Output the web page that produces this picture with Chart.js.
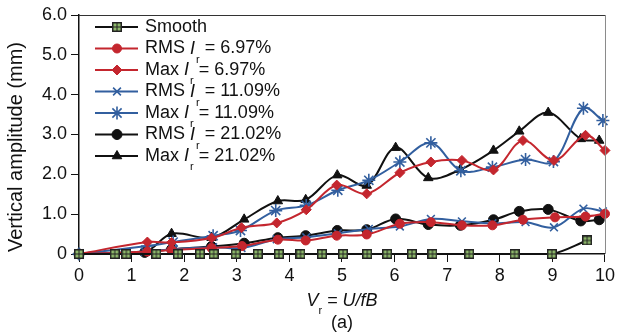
<!DOCTYPE html>
<html>
<head>
<meta charset="utf-8">
<style>
  html, body { margin: 0; padding: 0; background: #fff; }
  #wrap { width: 618px; height: 336px; }
</style>
<script src="https://cdn.jsdelivr.net/npm/chart.js@4.4.0/dist/chart.umd.min.js"></script>
</head>
<body>
<div id="wrap"><canvas id="amp" width="618" height="336"></canvas></div>
<script>
// reduced velocity Vr = U/fB and vertical amplitude (mm) for each case
const smoothX = [0, 0.68, 0.9, 1.47, 1.88, 2.3, 2.56, 2.98, 3.4, 3.8, 4.21, 4.62, 5.02, 5.48, 5.86, 6.33, 6.72, 7.42, 8.28, 8.99, 9.66];
const smoothY = [0, 0, 0, 0, 0, 0, 0, 0, 0, 0, 0, 0, 0, 0, 0, 0, 0, 0, 0, 0, 0.34];

const rms697X = [0, 1.3, 1.76, 2.52, 3.1, 3.78, 4.31, 4.9, 5.47, 6.1, 6.69, 7.28, 7.86, 8.44, 9.05, 9.63, 10.0];
const rms697Y = [0, 0.06, 0.1, 0.15, 0.2, 0.36, 0.34, 0.46, 0.49, 0.76, 0.8, 0.72, 0.72, 0.86, 0.92, 0.94, 1.01];
const max697X = [0, 1.3, 1.76, 2.52, 3.09, 3.76, 4.32, 4.9, 5.47, 6.1, 6.69, 7.28, 7.88, 8.44, 9.03, 9.63, 10.0];
const max697Y = [0, 0.3, 0.29, 0.4, 0.66, 0.78, 1.11, 1.73, 1.51, 2.04, 2.31, 2.35, 2.11, 2.85, 2.35, 2.98, 2.6];

const rms1109X = [0, 1.25, 1.79, 2.55, 3.09, 3.76, 4.32, 4.92, 5.51, 6.1, 6.69, 7.28, 7.86, 8.49, 9.03, 9.59, 9.96];
const rms1109Y = [0, 0.06, 0.12, 0.17, 0.15, 0.37, 0.42, 0.52, 0.63, 0.69, 0.88, 0.82, 0.77, 0.8, 0.67, 1.14, 1.07];
const max1109X = [0, 1.3, 1.79, 2.55, 3.07, 3.74, 4.32, 4.92, 5.51, 6.1, 6.69, 7.26, 7.86, 8.49, 9.02, 9.59, 9.96];
const max1109Y = [0, 0.2, 0.3, 0.46, 0.59, 1.09, 1.22, 1.6, 1.85, 2.31, 2.79, 2.09, 2.18, 2.37, 2.32, 3.66, 3.35];

const x2102 = [0, 1.25, 1.76, 2.52, 3.14, 3.78, 4.31, 4.91, 5.47, 6.02, 6.64, 7.25, 7.88, 8.37, 8.92, 9.54, 9.89];
const rms2102Y = [0, 0.04, 0.12, 0.19, 0.27, 0.41, 0.46, 0.59, 0.61, 0.88, 0.74, 0.72, 0.86, 1.07, 1.12, 0.83, 0.86];
const max2102Y = [0, 0.05, 0.51, 0.41, 0.87, 1.33, 1.36, 1.98, 1.72, 2.67, 1.91, 2.12, 2.6, 3.08, 3.55, 2.89, 2.85];

const xTicks = [0, 1, 2, 3, 4, 5, 6, 7, 8, 9, 10];
const yTicks = [0, 1, 2, 3, 4, 5, 6];
const intensities = ['6.97%', '11.09%', '21.02%'];

const RED = '#c4262e';
const BLUE = '#325f9f';
const BLACK = '#111111';
const FONT = '"Liberation Sans", Arial, sans-serif';

function pts(xs, ys) {
  return xs.map((x, i) => ({ x: x, y: ys[i] }));
}

// green square with a dark cross, used for the smooth cylinder
function squareMarker() {
  const c = document.createElement('canvas');
  c.width = 10; c.height = 10;
  const g = c.getContext('2d');
  g.fillStyle = '#222';
  g.fillRect(0, 0, 10, 10);
  g.fillStyle = '#8db86a';
  g.fillRect(1.5, 1.5, 3, 3);
  g.fillRect(5.5, 1.5, 3, 3);
  g.fillRect(1.5, 5.5, 3, 3);
  g.fillRect(5.5, 5.5, 3, 3);
  return c;
}
const sqMark = squareMarker();

function series(label, kind, data, color, style, radius, bw) {
  return {
    label: label,
    kind: kind,
    data: data,
    borderColor: color,
    backgroundColor: color,
    borderWidth: 2,
    pointStyle: style,
    pointRadius: radius,
    pointHoverRadius: radius,
    pointBorderWidth: bw,
    pointBorderColor: color,
    pointBackgroundColor: color,
    tension: 0.35,
    clip: false
  };
}

const datasets = [
  series('Smooth', null, pts(smoothX, smoothY), BLACK, sqMark, 5, 1),
  series('RMS', intensities[0], pts(rms697X, rms697Y), RED, 'circle', 4.5, 1),
  series('Max', intensities[0], pts(max697X, max697Y), RED, 'rectRot', 5, 1),
  series('RMS', intensities[1], pts(rms1109X, rms1109Y), BLUE, 'crossRot', 5.5, 1.6),
  series('Max', intensities[1], pts(max1109X, max1109Y), BLUE, 'star', 6.5, 1.6),
  series('RMS', intensities[2], pts(x2102, rms2102Y), BLACK, 'circle', 5, 1),
  series('Max', intensities[2], pts(x2102, max2102Y), BLACK, 'triangle', 5.5, 1)
];

// legend, frame, axis captions with the subscripted symbols
const decorations = {
  id: 'decorations',
  afterDraw(chart) {
    const ctx = chart.ctx;
    const area = chart.chartArea;
    ctx.save();

    // top and right edges of the plot box
    ctx.lineWidth = 1;
    ctx.strokeStyle = '#333';
    ctx.beginPath();
    ctx.moveTo(area.left, area.top + 0.5);
    ctx.lineTo(area.right, area.top + 0.5);
    ctx.stroke();
    ctx.strokeStyle = '#8a8a8a';
    ctx.beginPath();
    ctx.moveTo(area.right + 0.5, area.top);
    ctx.lineTo(area.right + 0.5, area.bottom);
    ctx.stroke();

    // legend rows
    const rowY0 = 27, rowGap = 21.5;
    chart.data.datasets.forEach((ds, i) => {
      const y = rowY0 + i * rowGap;
      ctx.strokeStyle = ds.borderColor;
      ctx.lineWidth = 2;
      ctx.beginPath();
      ctx.moveTo(95, y);
      ctx.lineTo(138, y);
      ctx.stroke();
      ctx.fillStyle = ds.pointBackgroundColor;
      ctx.strokeStyle = ds.pointBorderColor;
      ctx.lineWidth = ds.pointBorderWidth;
      Chart.helpers.drawPoint(ctx, {
        pointStyle: ds.pointStyle,
        radius: ds.pointRadius,
        borderWidth: ds.pointBorderWidth,
        rotation: 0
      }, 117, y);

      ctx.fillStyle = '#111';
      ctx.textBaseline = 'middle';
      ctx.textAlign = 'left';
      let x = 145;
      ctx.font = '18px ' + FONT;
      if (!ds.kind) {
        ctx.fillText(ds.label, x, y);
        return;
      }
      ctx.fillText(ds.label + ' ', x, y);
      x += ctx.measureText(ds.label + ' ').width;
      ctx.font = 'italic 18px ' + FONT;
      ctx.fillText('I', x, y);
      x += ctx.measureText('I').width + 1;
      ctx.font = '11px ' + FONT;
      ctx.fillText('r', x, y + 11);
      x += ctx.measureText('r').width;
      ctx.font = '18px ' + FONT;
      ctx.fillText(' = ' + ds.kind, x, y);
    });

    // y-axis caption
    ctx.fillStyle = '#111';
    ctx.font = '20px ' + FONT;
    ctx.textAlign = 'center';
    ctx.textBaseline = 'middle';
    ctx.save();
    ctx.translate(16, 147);
    ctx.rotate(-Math.PI / 2);
    ctx.fillText('Vertical amplitude (mm)', 0, 0);
    ctx.restore();

    // x-axis caption: Vr = U/fB, then panel tag
    const cx = (area.left + area.right) / 2;
    const ty = 301;
    ctx.font = 'italic 18px ' + FONT;
    const wV = ctx.measureText('V').width;
    const wRest = ctx.measureText(' = U/fB').width;
    ctx.font = '11px ' + FONT;
    const wr = ctx.measureText('r').width;
    let tx = cx - (wV + wr + wRest) / 2;
    ctx.textAlign = 'left';
    ctx.font = 'italic 18px ' + FONT;
    ctx.fillText('V', tx, ty);
    tx += wV;
    ctx.font = '11px ' + FONT;
    ctx.fillText('r', tx, ty + 10);
    tx += wr;
    ctx.font = 'italic 18px ' + FONT;
    ctx.fillText(' = U/fB', tx, ty);

    ctx.font = '18px ' + FONT;
    ctx.textAlign = 'center';
    ctx.fillText('(a)', cx, 323);
    ctx.restore();
  }
};

new Chart(document.getElementById('amp'), {
  type: 'line',
  data: { datasets: datasets },
  options: {
    responsive: false,
    animation: false,
    events: [],
    layout: { padding: { left: 0, top: 15, right: 12, bottom: 0 } },
    plugins: {
      legend: { display: false },
      tooltip: { enabled: false }
    },
    scales: {
      x: {
        type: 'linear',
        min: 0,
        max: 10,
        afterBuildTicks: s => { s.ticks = xTicks.map(v => ({ value: v })); },
        afterFit: s => { s.height = 82; },
        ticks: {
          color: '#111',
          font: { family: FONT, size: 18 },
          padding: 3,
          maxRotation: 0,
          callback: v => String(v)
        },
        grid: { drawOnChartArea: false, tickLength: 8, color: '#111', lineWidth: 1 },
        border: { color: '#111', width: 1.5 }
      },
      y: {
        type: 'linear',
        min: 0,
        max: 6,
        afterBuildTicks: s => { s.ticks = yTicks.map(v => ({ value: v })); },
        afterFit: s => { s.width = 79; },
        ticks: {
          color: '#111',
          font: { family: FONT, size: 18 },
          padding: 4,
          callback: v => (v === 0 ? '0' : v.toFixed(1))
        },
        grid: { drawOnChartArea: false, tickLength: 8, color: '#111', lineWidth: 1 },
        border: { color: '#111', width: 1.5 }
      }
    }
  },
  plugins: [decorations]
});
</script>
</body>
</html>
